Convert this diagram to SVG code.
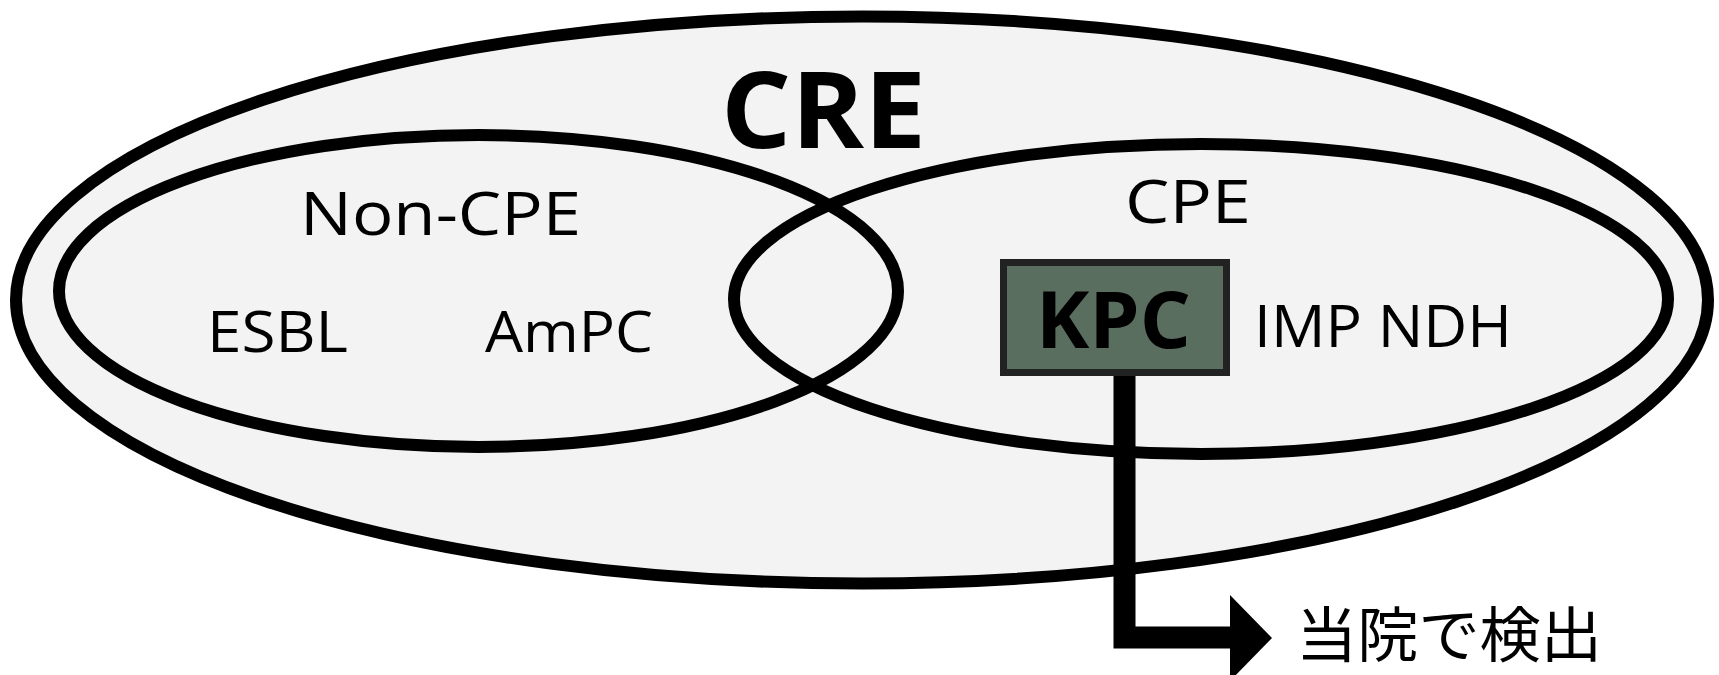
<svg xmlns="http://www.w3.org/2000/svg" width="1719" height="675" viewBox="0 0 1719 675">
<style>
.ring{fill:none;stroke:#000;stroke-width:12}
.lbl{font-family:"Open Sans","Liberation Sans",sans-serif;fill:#000}
.bold{font-weight:bold}
.jp{font-family:"Noto Sans CJK JP","Noto Sans CJK SC",sans-serif;fill:#000}
</style>
<rect width="1719" height="675" fill="#fff"/>
<g id="cre">
<ellipse cx="862" cy="300" rx="846" ry="283.5" fill="#f3f3f3" stroke="#000" stroke-width="12"/>
<text class="lbl bold" x="721" y="148" font-size="106" textLength="205" lengthAdjust="spacingAndGlyphs">CRE</text>
</g>
<g id="non-cpe">
<ellipse class="ring" cx="478.5" cy="291" rx="419.5" ry="156"/>
<text class="lbl" x="300" y="235" font-size="60" textLength="281" lengthAdjust="spacingAndGlyphs">Non-CPE</text>
<text class="lbl" x="207" y="352" font-size="57" textLength="141" lengthAdjust="spacingAndGlyphs">ESBL</text>
<text class="lbl" x="485" y="352" font-size="57" textLength="168" lengthAdjust="spacingAndGlyphs">AmPC</text>
</g>
<g id="cpe">
<ellipse class="ring" cx="1201" cy="299" rx="467" ry="155"/>
<text class="lbl" x="1125" y="223" font-size="60" textLength="126" lengthAdjust="spacingAndGlyphs">CPE</text>
<text class="lbl" x="1254" y="347" font-size="59" textLength="258" lengthAdjust="spacingAndGlyphs">IMP NDH</text>
</g>
<g id="connectors">
<path d="M1124.5 376 V637.5 H1232" fill="none" stroke="#000" stroke-width="22" stroke-linejoin="miter"/>
<polygon points="1230,595 1272,638 1230,681" fill="#000"/>
</g>
<g id="kpc">
<rect x="1003.5" y="262.5" width="223" height="110" fill="#5a6e60" stroke="#222" stroke-width="7"/>
<text class="lbl bold" x="1036" y="348" font-size="79" textLength="155" lengthAdjust="spacingAndGlyphs">KPC</text>
</g>
<g id="detected">
<text class="jp" x="1296" y="657" font-size="60" textLength="306" lengthAdjust="spacingAndGlyphs">当院で検出</text>
</g>
</svg>
